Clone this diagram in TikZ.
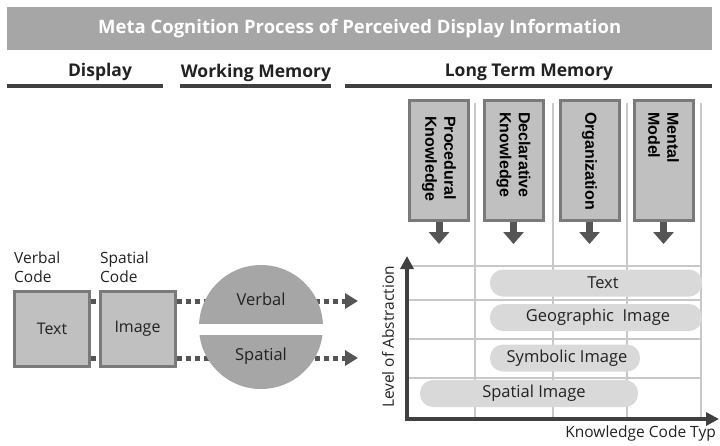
\documentclass[tikz,border=0pt]{standalone}
\usepackage{fontspec}
\setmainfont{Open Sans}
\newfontfamily\arialfont{Liberation Sans}
\usetikzlibrary{arrows.meta,backgrounds}
\definecolor{titlegray}{HTML}{A6A6A6}
\definecolor{boxfill}{HTML}{C0C0C0}
\definecolor{boxline}{HTML}{7A7A7A}
\definecolor{darkg}{HTML}{555555}
\definecolor{hdline}{HTML}{404040}
\definecolor{circg}{HTML}{A6A6A6}
\definecolor{pillg}{HTML}{D9D9D9}
\definecolor{gridg}{HTML}{C8C8C8}
\definecolor{axisg}{HTML}{404040}
\definecolor{txtg}{HTML}{222222}
\tikzset{
  hdtext/.style={font=\bfseries\fontsize{17.5}{20}\selectfont, text=txtg, inner sep=0},
  hdrule/.style={hdline, line width=4pt},
  codebox/.style={draw=boxline, fill=boxfill, line width=3pt, minimum width=75pt, minimum height=75pt, inner sep=0, font=\fontsize{16}{19}\selectfont, text=txtg},
  codelabel/.style={anchor=north west, align=left, inner sep=0, font=\fontsize{15.5}{19}\selectfont, text=txtg},
  wmlabel/.style={inner sep=0, font=\fontsize{16.5}{19}\selectfont, text=txtg},
  dotline/.style={darkg, line width=5pt, dash pattern=on 5pt off 4pt},
  ltmbox/.style={draw=boxline, fill=boxfill, line width=3pt, minimum width=59pt, minimum height=120pt, inner sep=0},
  ltmtext/.style={rotate=-90, anchor=west, align=left, inner sep=0, font=\arialfont\bfseries\fontsize{16}{19}\selectfont, text=black},
  downarrow/.style={darkg, line width=7pt, -{Triangle[length=12pt,width=20pt]}},
  gridline/.style={gridg, line width=1.5pt},
  axisline/.style={axisg, line width=4pt, -{Triangle[length=13pt,width=13pt]}},
  pillst/.style={fill=pillg, rounded corners=13pt, minimum height=27pt, inner sep=0, font=\fontsize{16.5}{19}\selectfont, text=txtg},
  axlabel/.style={inner sep=0, font=\fontsize{15.5}{18}\selectfont, text=txtg}
}
\begin{document}
\begin{tikzpicture}[x=1pt,y=-1pt]
\useasboundingbox (0,0) rectangle (720,445);
% title
\node[fill=titlegray, minimum width=705pt, minimum height=43pt, inner sep=0, anchor=north west,
      text=white, font=\bfseries\fontsize{18.5}{21}\selectfont] (title) at (7,7)
      {Meta Cognition Process of Perceived Display Information};
% headers
\node[hdtext] (hdisp) at (100,72) {Display};
\node[hdtext] (hwm) at (256,73) {Working Memory};
\node[hdtext] (hltm) at (529,72) {Long Term Memory};
\draw[hdrule] (7,86) -- (163,86);
\draw[hdrule] (180,86) -- (331,86);
\draw[hdrule] (345,86) -- (712,86);
% display boxes
\node[codebox] (txt) at (52,329) {Text};
\node[codebox] (img) at (137.5,329) {Image};
\node[codelabel] (vc) at (14,252) {Verbal\\Code};
\node[codelabel] (sc) at (100,252) {Spatial\\Code};
% working memory circle
\node[circle, fill=circg, minimum size=124pt, inner sep=0] (wm) at (261,327) {};
\fill[white] ([xshift=-3pt]wm.west |- 0,324) rectangle ([xshift=3pt]wm.east |- 0,335);
\node[wmlabel] (wmv) at (261,299) {Verbal};
\node[wmlabel] (wms) at (261,356) {Spatial};
\coordinate (tipv) at (358,301);
\coordinate (tips) at (358,358);
\begin{scope}[on background layer]
\draw[dotline] (txt.east |- 0,301) -- (img.west |- 0,301);
\draw[dotline] (txt.east |- 0,358) -- (img.west |- 0,358);
\draw[dotline] (img.east |- 0,301) -- (wm.center |- 0,301);
\draw[dotline] (img.east |- 0,358) -- (wm.center |- 0,358);
\draw[dotline, -{Triangle[length=13pt,width=15pt]}] (wm.center |- 0,301) -- (tipv);
\draw[dotline, -{Triangle[length=13pt,width=15pt]}] (wm.center |- 0,358) -- (tips);
\end{scope}
% grid
\draw[gridline] (475,103) -- (475,419);
\draw[gridline] (553,103) -- (553,419);
\draw[gridline] (627,103) -- (627,419);
\draw[gridline] (701,103) -- (701,419);
\draw[gridline] (407,266) -- (701,266);
\draw[gridline] (407,300) -- (701,300);
\draw[gridline] (407,339) -- (701,339);
\draw[gridline] (407,378) -- (701,378);
% LTM boxes
\node[ltmbox] (b1) at (439,160.5) {};
\node[ltmbox] (b2) at (513.5,160.5) {};
\node[ltmbox] (b3) at (589.5,160.5) {};
\node[ltmbox] (b4) at (663.5,160.5) {};
\node[ltmtext] (t1) at (439,116) {Procedural\\Knowledge};
\node[ltmtext] (t2) at (513.5,112) {Declarative\\Knowledge};
\node[ltmtext] (t3) at (589.5,112) {Organization};
\node[ltmtext] (t4) at (663.5,112) {Mental\\Model};
\coordinate (a1) at (439,244);
\coordinate (a2) at (513.5,244);
\coordinate (a3) at (589.5,244);
\coordinate (a4) at (663.5,244);
\draw[downarrow] (b1.south) -- (a1);
\draw[downarrow] (b2.south) -- (a2);
\draw[downarrow] (b3.south) -- (a3);
\draw[downarrow] (b4.south) -- (a4);
% pills
\node[pillst, minimum width=212pt] (p1) at (596,283) {\hspace{14pt}Text};
\node[pillst, minimum width=212pt] (p2) at (596,317.5) {\hspace{4pt}Geographic\ \ Image};
\node[pillst, minimum width=150pt] (p3) at (565,358) {\hspace{4pt}Symbolic Image};
\node[pillst, minimum width=218pt] (p4) at (529,393.5) {\hspace{10pt}Spatial Image};
% axes
\coordinate (orig) at (405,419);
\coordinate (ytip) at (407,256);
\coordinate (xtip) at (719,419);
\draw[axisline] (407,421) -- (ytip);
\draw[axisline] (orig) -- (xtip);
\node[axlabel, rotate=90] (ylab) at (388,337) {Level of Abstraction};
\node[axlabel, anchor=east] (xlab) at (716,433) {Knowledge Code Typ};
\end{tikzpicture}
\end{document}
